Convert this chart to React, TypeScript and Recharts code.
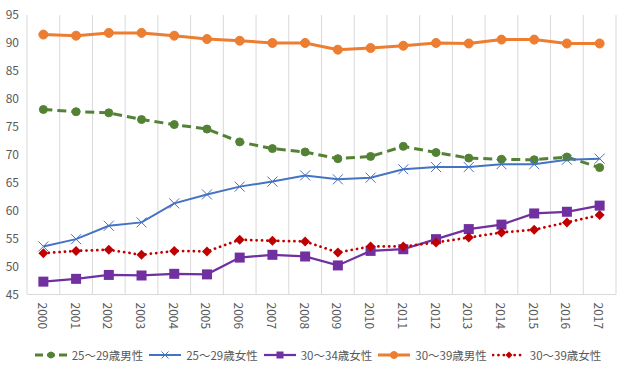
import { CartesianGrid, Line, LineChart, XAxis, YAxis } from "recharts";

const years = [
    "2000", "2001", "2002", "2003", "2004", "2005", "2006", "2007", "2008",
    "2009", "2010", "2011", "2012", "2013", "2014", "2015", "2016", "2017",
];
const male2529 = [78.1, 77.7, 77.5, 76.3, 75.4, 74.6, 72.3, 71.1, 70.5, 69.3, 69.7, 71.5, 70.4, 69.4, 69.2, 69.1, 69.6, 67.7];
const female2529 = [53.6, 54.9, 57.3, 57.9, 61.3, 62.9, 64.3, 65.2, 66.3, 65.6, 65.9, 67.4, 67.8, 67.8, 68.3, 68.3, 69.1, 69.3];
const female3034 = [47.3, 47.8, 48.5, 48.4, 48.7, 48.6, 51.6, 52.1, 51.8, 50.2, 52.8, 53.1, 54.9, 56.7, 57.5, 59.5, 59.8, 60.9];
const male3039 = [91.5, 91.3, 91.8, 91.8, 91.3, 90.7, 90.4, 90.0, 90.0, 88.8, 89.1, 89.5, 90.0, 89.9, 90.6, 90.6, 89.9, 89.9];
const female3039 = [52.4, 52.8, 53.0, 52.1, 52.8, 52.7, 54.8, 54.6, 54.5, 52.5, 53.6, 53.6, 54.3, 55.2, 56.1, 56.6, 57.9, 59.2];
const yTicks = [45, 50, 55, 60, 65, 70, 75, 80, 85, 90, 95];

const FONT = '"Noto Sans CJK JP", "Noto Sans", sans-serif';
const TEXT = "#595959";

const CHART_W = 635;
const MARGIN = { top: 15, right: 19, bottom: 0, left: 0 };
const Y_W = 27;
// half a category band on each side, so points sit between the gridlines
const HALF_BAND = (CHART_W - MARGIN.right - Y_W) / years.length / 2;

type Shape = "circle" | "cross" | "square" | "diamond";

const series: {
    key: string;
    name: string;
    values: number[];
    color: string;
    width: number;
    dash?: string;
    shape: Shape;
    size: number;
    legendSize: number;
}[] = [
    { key: "m2529", name: "25～29歳男性", values: male2529, color: "#548235", width: 3, dash: "9 5", shape: "circle", size: 4, legendSize: 3 },
    { key: "f2529", name: "25～29歳女性", values: female2529, color: "#4472C4", width: 2, shape: "cross", size: 5, legendSize: 3.5 },
    { key: "f3034", name: "30～34歳女性", values: female3034, color: "#7030A0", width: 2.25, shape: "square", size: 5, legendSize: 3.5 },
    { key: "m3039", name: "30～39歳男性", values: male3039, color: "#ED7D31", width: 3, shape: "circle", size: 4.5, legendSize: 3.5 },
    { key: "f3039", name: "30～39歳女性", values: female3039, color: "#C00000", width: 2.75, dash: "0.1 5.3", shape: "diamond", size: 5, legendSize: 3.5 },
];

const data = years.map((year, i) => {
    const row: Record<string, string | number> = { year };
    series.forEach((s) => (row[s.key] = s.values[i]));
    return row;
});

function Marker({ cx, cy, shape, size, color }: { cx: number; cy: number; shape: Shape; size: number; color: string }) {
    if (cx == null || cy == null) return null;
    switch (shape) {
        case "circle":
            return <circle cx={cx} cy={cy} r={size} fill={color} stroke={color} />;
        case "square":
            return <rect x={cx - size} y={cy - size} width={size * 2} height={size * 2} fill={color} />;
        case "diamond":
            return (
                <polygon
                    points={`${cx},${cy - size} ${cx + size},${cy} ${cx},${cy + size} ${cx - size},${cy}`}
                    fill={color}
                />
            );
        case "cross":
            return (
                <path
                    d={`M${cx - size},${cy - size}L${cx + size},${cy + size}M${cx - size},${cy + size}L${cx + size},${cy - size}`}
                    stroke={color}
                    strokeWidth={1}
                    fill="none"
                />
            );
    }
}

function YearTick({ x, y, payload }: any) {
    return (
        <text
            x={x}
            y={y}
            transform={`rotate(90 ${x} ${y})`}
            textAnchor="start"
            dominantBaseline="central"
            fill={TEXT}
            fontSize={12}
            fontFamily={FONT}
        >
            {payload.value}
        </text>
    );
}

function LegendRow() {
    return (
        <div
            style={{
                position: "absolute",
                top: 345,
                left: 0,
                width: CHART_W,
                height: 20,
                display: "flex",
                justifyContent: "center",
                gap: 5,
                fontFamily: FONT,
                fontSize: 11.5,
                color: TEXT,
            }}
        >
            {series.map((s) => (
                <div key={s.key} style={{ display: "flex", alignItems: "center", gap: 4 }}>
                    <svg width={34} height={20}>
                        <line
                            x1={1}
                            y1={10}
                            x2={33}
                            y2={10}
                            stroke={s.color}
                            strokeWidth={s.width}
                            strokeDasharray={s.dash === "9 5" ? "8 4" : s.dash}
                            strokeLinecap={s.dash === "0.1 5.3" ? "round" : "butt"}
                        />
                        <Marker cx={17} cy={10} shape={s.shape} size={s.legendSize} color={s.color} />
                    </svg>
                    <span>{s.name}</span>
                </div>
            ))}
        </div>
    );
}

export default function App() {
    return (
        <div style={{ position: "absolute", left: 0, top: 0, width: CHART_W, height: 369, background: "#fff" }}>
            <LineChart width={CHART_W} height={335} data={data} margin={MARGIN}>
                <CartesianGrid
                    horizontal={false}
                    stroke="#d9d9d9"
                    verticalCoordinatesGenerator={({ offset }: any) => {
                        const step = offset.width / years.length;
                        return Array.from({ length: years.length + 1 }, (_, i) => offset.left + i * step);
                    }}
                />
                <XAxis
                    dataKey="year"
                    height={40.5}
                    interval={0}
                    padding={{ left: HALF_BAND, right: HALF_BAND }}
                    tickLine={false}
                    axisLine={{ stroke: "#d9d9d9" }}
                    tick={<YearTick />}
                />
                <YAxis
                    width={Y_W}
                    domain={[45, 95]}
                    ticks={yTicks}
                    interval={0}
                    axisLine={false}
                    tickLine={false}
                    tick={{ fill: TEXT, fontSize: 12, fontFamily: FONT }}
                />
                {series.map((s) => (
                    <Line
                        key={s.key}
                        dataKey={s.key}
                        name={s.name}
                        stroke={s.color}
                        strokeWidth={s.width}
                        strokeDasharray={s.dash}
                        strokeLinecap={s.dash === "0.1 5.3" ? "round" : "butt"}
                        isAnimationActive={false}
                        dot={(p: any) => (
                            <Marker key={`${s.key}-${p.index}`} cx={p.cx} cy={p.cy} shape={s.shape} size={s.size} color={s.color} />
                        )}
                        activeDot={false}
                    />
                ))}
            </LineChart>
            <LegendRow />
        </div>
    );
}
